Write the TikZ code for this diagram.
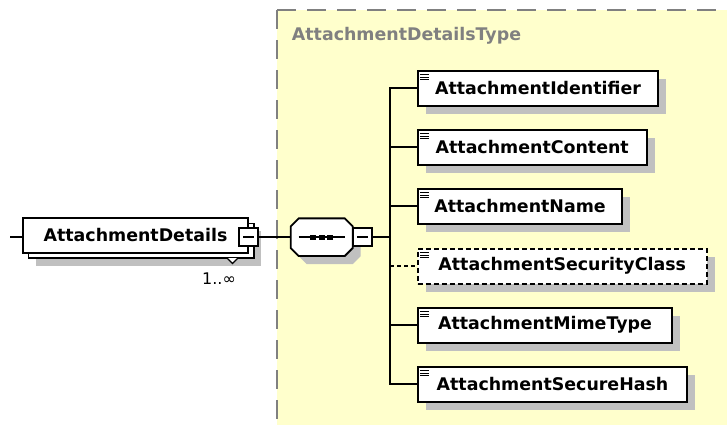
\documentclass[tikz,border=0pt]{standalone}
\usepackage{fontspec}
\setmainfont{DejaVu Sans}
\usetikzlibrary{shadows,calc}
\definecolor{bgyellow}{RGB}{255,255,204}
\definecolor{framegray}{RGB}{128,128,128}
\definecolor{shadowgray}{RGB}{192,192,192}
\tikzset{
  lbl/.style={font=\fontsize{17.4}{20}\selectfont\bfseries},
  conn/.style={line width=2pt, black},
  elem/.style={draw=black, line width=2pt, fill=white, minimum height=35pt,
    inner sep=0pt, outer sep=0pt, anchor=west, lbl,
    general shadow={fill=shadowgray, draw=none, shadow xshift=8pt, shadow yshift=-8pt},
    path picture={
      \foreach \dy in {4.3,6.7,9.1}
        \draw[solid, line width=0.9pt, black]
          ([xshift=2.6pt,yshift=-\dy pt]path picture bounding box.north west) -- ++(8.6pt,0pt);
    }},
  optelem/.style={elem, dash pattern=on 5pt off 3pt},
  minusbox/.style={draw=black, line width=1.8pt, fill=white, minimum width=18.4pt,
    minimum height=18.4pt, inner sep=0pt, outer sep=0pt,
    path picture={\draw[line width=1.5pt] ([xshift=-5.5pt]path picture bounding box.center) -- ++(11pt,0pt);}},
  octo/.style={line width=1.8pt},
}
\newcommand\octagonpath[2]{%
  ($(seq.north west)+(8+#1,#2)$) -- ($(seq.north east)+(-8+#1,#2)$) -- ($(seq.north east)+(#1,8+#2)$)
  -- ($(seq.south east)+(#1,-8+#2)$) -- ($(seq.south east)+(-8+#1,#2)$) -- ($(seq.south west)+(8+#1,#2)$)
  -- ($(seq.south west)+(#1,-8+#2)$) -- ($(seq.north west)+(#1,8+#2)$) -- cycle}
\begin{document}
\begin{tikzpicture}[x=1pt,y=-1pt]
\useasboundingbox (0,0) rectangle (727,424);
% type frame
\begin{scope}
  \clip (0,0) rectangle (727,424);
  \fill[bgyellow] (277.3,10) rectangle (740,440);
  \draw[framegray, line width=2pt, dash pattern=on 19pt off 11pt] (277.3,10) -- (740,10);
  \draw[framegray, line width=2pt, dash pattern=on 19pt off 11pt] (277.3,10) -- (277.3,440);
\end{scope}
\node[lbl, text=framegray, anchor=west, inner sep=0pt] (title) at (291.7,36) {AttachmentDetailsType};

% main element
\node[draw=black, line width=2pt, fill=white, minimum width=225.6pt, minimum height=34.5pt,
  inner sep=0pt, outer sep=0pt, lbl,
  general shadow={fill=shadowgray, draw=none, shadow xshift=13pt, shadow yshift=-13pt},
  copy shadow={fill=white, draw=black, line width=1.6pt, shadow xshift=5.7pt, shadow yshift=-5.5pt}]
  (md) at (135.5,235.4) {AttachmentDetails\hspace{9.4pt}};
\coordinate (notchl) at (227,258);
\coordinate (notchr) at (238,258);
\coordinate (notchb) at (232.5,263.5);
\fill[white] (notchl) -- (notchb) -- (notchr) -- cycle;
\draw[line width=1.1pt] (notchl) -- (notchb) -- (notchr);
\node[minusbox] (mdmin) at (248.5,237) {};
\node[font=\fontsize{16}{18}\selectfont, inner sep=0pt] (card) at (219,278.5) {1..∞};
\coordinate (start) at (10,237);
\draw[conn] (start) -- (start -| md.west);

% sequence compositor
\node[minimum width=62pt, minimum height=37.7pt, inner sep=0pt, outer sep=0pt] (seq) at (321.7,237.2) {};
\fill[shadowgray] \octagonpath{8}{8};
\draw[octo, fill=white] \octagonpath{0}{0};
\draw[line width=1.5pt] ([xshift=8pt]seq.west) -- ([xshift=-8pt]seq.east);
\foreach \dx in {-8.5,0,8.5}
  \fill ([xshift=\dx pt]seq.center) ++(-2.8pt,-2.5pt) rectangle ++(5.6pt,5pt);
\node[minusbox] (seqmin) at (362.5,237) {};
\draw[conn] (mdmin.east) -- (mdmin.east -| seq.west);
\coordinate (tr) at (390,237);
\draw[conn] (seqmin.east) -- (tr);

% children
\node[elem, minimum width=240.6pt] (c1) at (417.7,88) {AttachmentIdentifier};
\node[elem, minimum width=229pt] (c2) at (417.7,147) {AttachmentContent};
\node[elem, minimum width=204.6pt] (c3) at (417.7,206) {AttachmentName};
\node[optelem, minimum width=289pt] (c4) at (417.7,266) {AttachmentSecurityClass};
\node[elem, minimum width=254.6pt] (c5) at (417.7,325) {AttachmentMimeType};
\node[elem, minimum width=269.6pt] (c6) at (417.7,384) {AttachmentSecureHash};

\draw[conn] (c1.west) -- (c1.west -| tr) -- (c6.west -| tr) -- (c6.west);
\draw[conn] (c2.west -| tr) -- (c2.west);
\draw[conn] (c3.west -| tr) -- (c3.west);
\draw[conn, dash pattern=on 4pt off 3pt] (c4.west -| tr) -- (c4.west);
\draw[conn] (c5.west -| tr) -- (c5.west);
\end{tikzpicture}
\end{document}
